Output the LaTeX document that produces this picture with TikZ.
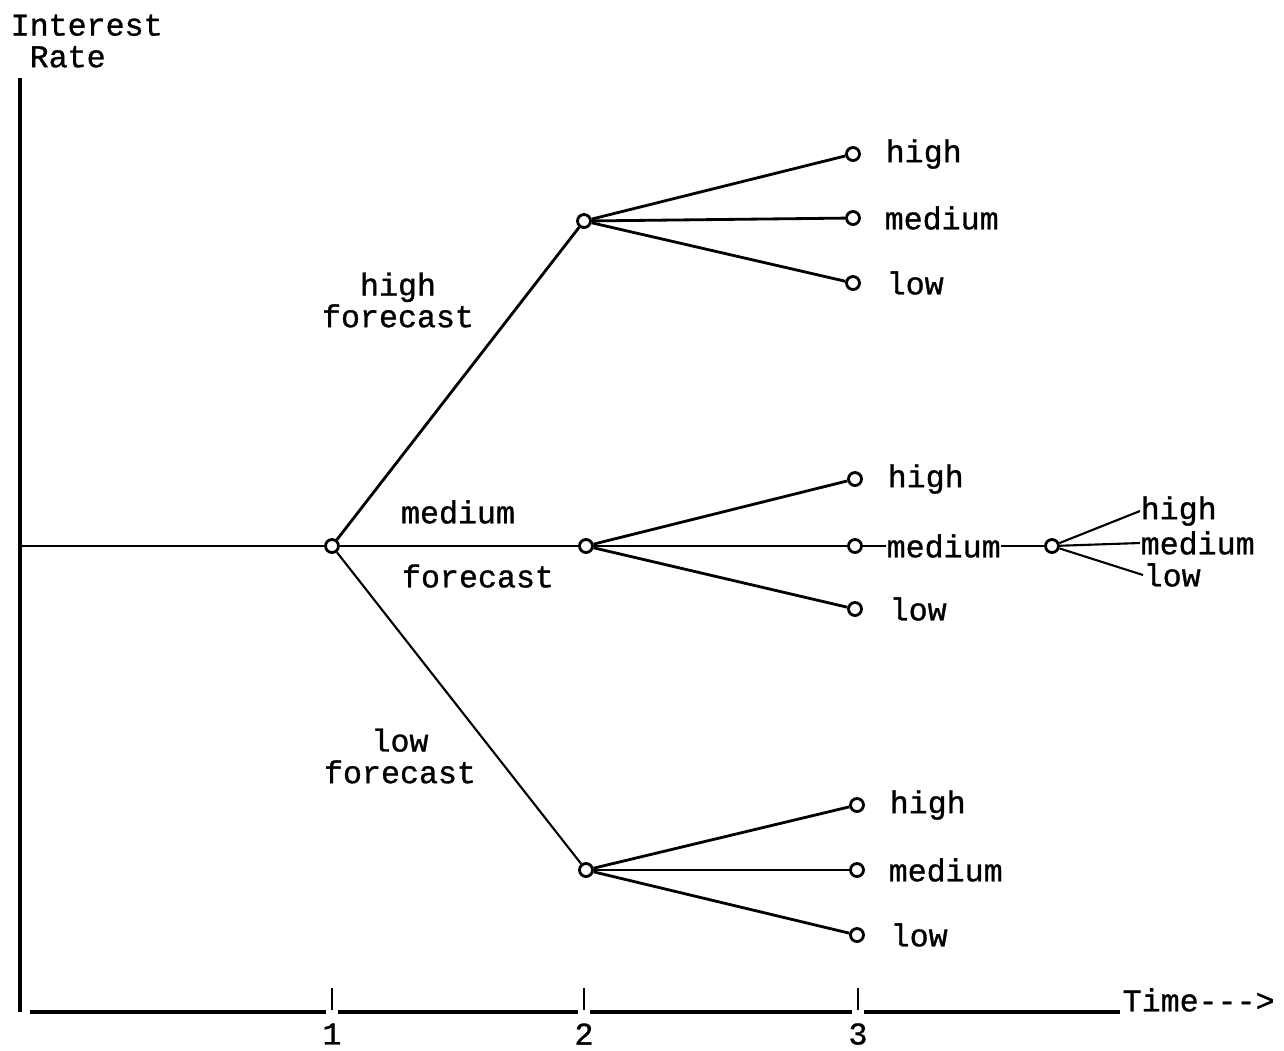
\documentclass[tikz,border=0pt]{standalone}
\usepackage{fontspec}
\setmonofont[FakeBold=1]{Liberation Mono}
\begin{document}
\begin{tikzpicture}[x=0.01cm,y=-0.01cm,
  every node/.style={font=\ttfamily\fontsize{9}{9}\selectfont},
  pt/.style={circle,draw,line width=0.8pt,fill=white,minimum size=0.13cm,inner sep=0pt},
  lab/.style={anchor=west,inner sep=0pt},
  br/.style={line width=0.8pt},
  thinbr/.style={line width=0.6pt},
  ax/.style={line width=1pt},
  tick/.style={line width=0.8pt}]
\useasboundingbox (0,0) rectangle (1284,1050);
% axes
\coordinate (o) at (20,1012);
\coordinate (top) at (20,78);
\coordinate (origin) at (20,546);
\node[lab,align=left] (ylab) at (10,41) {Interest\\\ Rate};
\node[lab] (tlab) at (1122,1000) {Time-{}-{}->};
\draw[ax] (top) -- (o);
\coordinate (s0) at (30,1012);
\foreach \x/\t in {332/1,584/2,858/3}{
  \coordinate (t\t) at (\x,988);
  \coordinate (b\t) at (\x,1010);
  \draw[tick] (t\t) -- (b\t);
  \node (n\t) at (\x,1034) {\t};
}
\coordinate (e1) at (326,1012); \coordinate (s1) at (338,1012);
\coordinate (e2) at (578,1012); \coordinate (s2) at (590,1012);
\coordinate (e3) at (852,1012); \coordinate (s3) at (864,1012);
\coordinate (xend) at (1120,1012);
\draw[ax] (s0) -- (e1) (s1) -- (e2) (s2) -- (e3) (s3) -- (xend);
% nodes
\node[pt] (A) at (332,546) {};
\node[pt] (H) at (584,221) {};
\node[pt] (M) at (586,546) {};
\node[pt] (L) at (586,870) {};
\node[pt] (Hh) at (853,154) {};
\node[pt] (Hm) at (853,218) {};
\node[pt] (Hl) at (853,283) {};
\node[pt] (Mh) at (855,479) {};
\node[pt] (Mm) at (855,546) {};
\node[pt] (Ml) at (855,609) {};
\node[pt] (Lh) at (857,805) {};
\node[pt] (Lm) at (857,870) {};
\node[pt] (Ll) at (857,935) {};
\node[pt] (X) at (1052,546) {};
% edges
\draw[br] (origin) -- (A);
\draw[br] (A) -- (H);
\draw[br] (A) -- (M);
\draw[thinbr] (A) -- (L);
\foreach \p in {H,M,L}{
  \draw[br] (\p) -- (\p h);
  \draw[br] (\p) -- (\p m);
  \draw[br] (\p) -- (\p l);
}
% leaf labels
\node[lab] (tHh) at (885,154) {high};
\node[lab] (tHm) at (884,218) {medium};
\node[lab] (tHl) at (886,283) {low};
\node[lab] (tMh) at (887,479) {high};
\node[lab] (tMm) at (886,546) {medium};
\node[lab] (tMl) at (889,609) {low};
\node[lab] (tLh) at (889,805) {high};
\node[lab] (tLm) at (888,870) {medium};
\node[lab] (tLl) at (890,935) {low};
\draw[thinbr] (Mm) -- (tMm.west);
\draw[thinbr] (tMm.east) -- (X);
% final fan
\node[lab] (Fh) at (1140,511) {high};
\node[lab] (Fm) at (1140,543) {medium};
\node[lab] (Fl) at (1143,575) {low};
\draw[thinbr] (X) -- (Fh.west);
\draw[thinbr] (X) -- (Fm.west);
\draw[thinbr] (X) -- (Fl.west);
% branch labels
\node[align=center] (lh) at (398,300) {high\\forecast};
\node (lm1) at (458,512) {medium};
\node (lm2) at (478,576) {forecast};
\node[align=center] (ll) at (400,756) {low\\forecast};
\end{tikzpicture}
\end{document}
